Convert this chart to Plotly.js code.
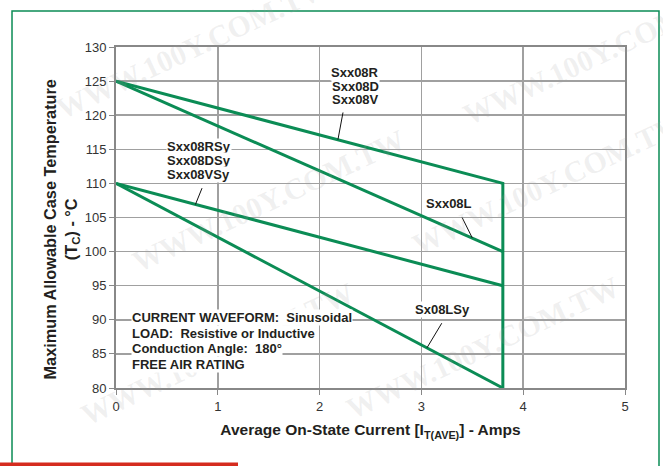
<!DOCTYPE html>
<html><head><meta charset="utf-8">
<script src="https://cdn.plot.ly/plotly-3.0.1.min.js"></script>
<style>html,body{margin:0;padding:0;background:#fff}#chart{width:663px;height:466px}</style>
</head><body><div id="chart"></div>
<script>
// Curve data (Average current in A, case temperature in °C)
const xR = [0, 3.8, 3.8];      const yR = [125, 110, 80];   // Sxx08R/D/V (incl. vertical limit)
const xL = [0, 3.8];           const yL = [125, 100];       // Sxx08L
const xRSy = [0, 3.8];         const yRSy = [110, 95];      // Sxx08RSy/DSy/VSy
const xLSy = [0, 3.8];         const yLSy = [110, 80];      // Sx08LSy
const xTicks = [0, 1, 2, 3, 4, 5];
const yTicks = [80, 85, 90, 95, 100, 105, 110, 115, 120, 125, 130];
const labelR = ["Sxx08R", "Sxx08D", "Sxx08V"];
const labelL = ["Sxx08L"];
const labelRSy = ["Sxx08RSy", "Sxx08DSy", "Sxx08VSy"];
const labelLSy = ["Sx08LSy"];
const infoLines = ["CURRENT WAVEFORM:  Sinusoidal", "LOAD:  Resistive or Inductive", "Conduction Angle:  180°", "FREE AIR RATING"];
const xTitle = "Average On-State Current [I<sub>T(AVE)</sub>] - Amps";
const yTitle = "Maximum Allowable Case Temperature<br>(T<sub>C</sub>) - °C";
const watermark = "WWW.100Y.COM.TW";

const green = '#0b8c55';
const lineStyle = {color: green, width: 3};
const traces = [
  {x: xR, y: yR, mode: 'lines', line: lineStyle, hoverinfo: 'skip'},
  {x: xL, y: yL, mode: 'lines', line: lineStyle, hoverinfo: 'skip'},
  {x: xRSy, y: yRSy, mode: 'lines', line: lineStyle, hoverinfo: 'skip'},
  {x: xLSy, y: yLSy, mode: 'lines', line: lineStyle, hoverinfo: 'skip'}
];

const lblFont = {family: 'Liberation Sans, Arial, sans-serif', size: 13, color: '#231f20'};
const step = 2.0; // line spacing in °C
function block(lines, x, yTop, xanchor, spacing) {
  return lines.map((t, i) => ({x: x, y: yTop - i * (spacing || step), xref: 'x', yref: 'y', text: '<b>' + t + '</b>',
    showarrow: false, font: lblFont, bgcolor: '#ffffff', xanchor: xanchor || 'center', yanchor: 'middle', borderpad: 0}));
}
const wmFont = {family: 'Liberation Serif, serif', size: 30, color: 'rgba(160,160,160,0.16)'};
function wm(x, y) {
  return {x: x, y: y, xref: 'paper', yref: 'paper', xanchor: 'center', yanchor: 'middle',
          text: '<b>' + watermark + '</b>', showarrow: false, font: wmFont, textangle: -25};
}
const annotations = [].concat(
  [wm(0.15, 1.0), wm(0.95, 0.98), wm(0.3, 0.55), wm(0.85, 0.6), wm(0.2, 0.1), wm(0.72, 0.12)],
  block(labelR, 2.35, 126.2, 'center', 1.98),
  block(labelL, 3.27, 107.0),
  block(labelRSy, 0.815, 115.35, 'center', 2.05),
  block(labelLSy, 3.21, 91.45),
  block(infoLines, 0.147, 90.4, 'left', 2.34),
  [{x: -0.106, y: 0.465, xref: 'paper', yref: 'paper', xanchor: 'center', yanchor: 'middle', textangle: -90,
    showarrow: false, text: '<b>' + yTitle + '</b>', font: {family: 'Liberation Sans, Arial, sans-serif', size: 16.3, color: '#231f20'}}]
);

const lead = {color: '#111', width: 1};
const shapes = [
  // leader lines
  {type: 'line', xref: 'x', yref: 'y', x0: 2.23, y0: 120.4, x1: 2.18, y1: 116.4, line: lead},
  {type: 'line', xref: 'x', yref: 'y', x0: 3.40, y0: 105.0, x1: 3.50, y1: 102.0, line: lead},
  {type: 'line', xref: 'x', yref: 'y', x0: 0.845, y0: 109.3, x1: 0.78, y1: 106.9, line: lead},
  {type: 'line', xref: 'x', yref: 'y', x0: 3.20, y0: 89.5, x1: 3.055, y1: 85.9, line: lead},
  // outer frame
  {type: 'rect', xref: 'paper', yref: 'paper', x0: -0.2043, x1: 1.0668, y0: -0.3, y1: 1.1056,
   line: {color: green, width: 1.5}, layer: 'below'},
  // red bar
  {type: 'rect', xref: 'paper', yref: 'paper', x0: -0.24, x1: 0.2397, y0: -0.2375, y1: -0.2185,
   fillcolor: '#d52b1e', line: {width: 0}}
];

const layout = {
  width: 663, height: 466,
  margin: {l: 116, r: 38, t: 47, b: 78},
  paper_bgcolor: '#ffffff', plot_bgcolor: '#ffffff',
  showlegend: false,
  font: {family: 'Liberation Sans, Arial, sans-serif', color: '#333'},
  xaxis: {range: [0, 5], tickvals: xTicks, ticktext: xTicks.map(String), showgrid: true, gridcolor: '#a0a0a0', gridwidth: 1.5,
          zeroline: false, showline: true, linecolor: '#888', linewidth: 2, mirror: true,
          ticks: 'outside', ticklen: 5, tickcolor: '#888', tickfont: {size: 13, color: '#333'},
          title: {text: '<b>' + xTitle + '</b>', font: {size: 15.5, color: '#231f20'}, standoff: 12}},
  yaxis: {range: [80, 130], tickvals: yTicks, ticktext: yTicks.map(String), showgrid: true, gridcolor: '#a0a0a0', gridwidth: 1.5,
          zeroline: false, showline: true, linecolor: '#888', linewidth: 2, mirror: true,
          ticks: 'outside', ticklen: 5, tickcolor: '#888', tickfont: {size: 13, color: '#333'}},
  annotations: annotations,
  shapes: shapes
};
Plotly.newPlot('chart', traces, layout, {staticPlot: true, displayModeBar: false});
</script></body></html>
